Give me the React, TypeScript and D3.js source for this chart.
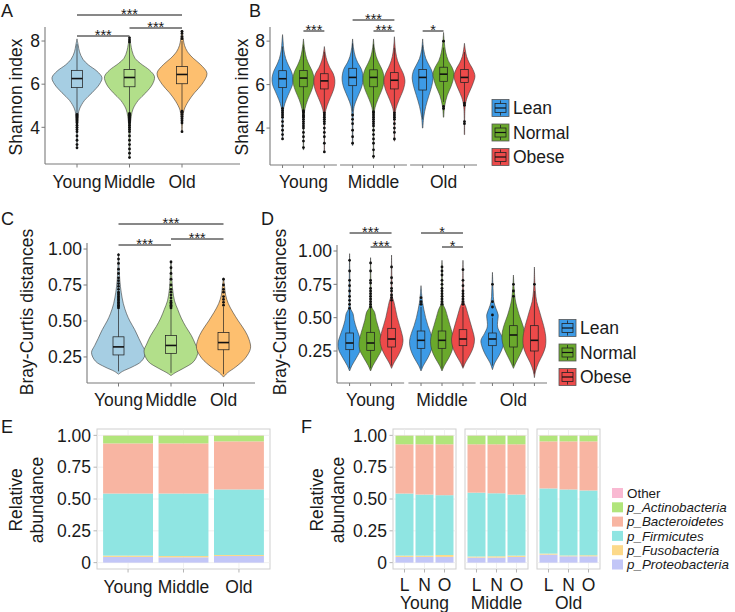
import React from 'react';
import * as d3 from 'd3';

const FONT = "'Liberation Sans', Arial, Helvetica, sans-serif";

// ---------- categories ----------
const ageGroups = ['Young', 'Middle', 'Old'];
const bmiGroups = ['Lean', 'Normal', 'Obese'];
const bmiShort = ['L', 'N', 'O'];
const ageColors = ['#a6cee3', '#b2df8a', '#fdbf6f'];
const bmiColors = ['#3d9be6', '#6aa92c', '#ec4a4a'];

// ---------- ticks ----------
const shannonTicks = [4, 6, 8];
const brayTicks = [0.25, 0.5, 0.75, 1.0];
const brayTickLabels = ['0.25', '0.50', '0.75', '1.00'];
const abundanceTicks = [0, 0.25, 0.5, 0.75, 1.0];
const abundanceTickLabels = ['0', '0.25', '0.50', '0.75', '1.00'];

// ---------- Panel A: Shannon by age (profile: [value, relative density]) ----------
const shannonAgeProfiles = [
  [[3.0, 0.01], [4.2, 0.02], [4.6, 0.05], [4.85, 0.1], [5.25, 0.3], [5.6, 0.6], [6.0, 0.9], [6.3, 1.0], [6.6, 0.8], [6.9, 0.45], [7.15, 0.24], [7.5, 0.1], [7.8, 0.05], [8.1, 0.0]],
  [[2.6, 0.01], [4.0, 0.03], [4.5, 0.07], [4.85, 0.14], [5.25, 0.35], [5.6, 0.65], [6.0, 0.92], [6.35, 1.0], [6.65, 0.8], [6.95, 0.45], [7.2, 0.22], [7.55, 0.1], [7.85, 0.05], [8.2, 0.0]],
  [[3.8, 0.01], [4.4, 0.03], [4.8, 0.08], [5.2, 0.25], [5.6, 0.5], [6.0, 0.8], [6.5, 1.0], [6.9, 0.75], [7.2, 0.45], [7.5, 0.22], [7.8, 0.1], [8.1, 0.05], [8.5, 0.0]],
];
const shannonAgeBoxes = [
  [4.65, 5.84, 6.26, 6.64, 7.85],
  [4.7, 5.88, 6.31, 6.68, 7.9],
  [4.8, 6.02, 6.45, 6.82, 8.0],
];
const shannonAgeOutliers = [
  [4.6, 4.55, 4.5, 4.45, 4.4, 4.35, 4.3, 4.25, 4.2, 4.1, 4.0, 3.9, 3.8, 3.6, 3.4, 3.2, 3.05],
  [4.65, 4.6, 4.55, 4.5, 4.45, 4.4, 4.35, 4.3, 4.25, 4.2, 4.1, 4.0, 3.9, 3.8, 3.6, 3.4, 3.2, 3.0, 2.8, 2.6, 7.95, 8.05, 8.15],
  [4.75, 4.7, 4.6, 4.5, 4.4, 4.3, 4.2, 3.8, 8.1, 8.2, 8.35, 8.45],
];

// ---------- Panel B: Shannon by age x BMI (Young L,N,O, Middle L,N,O, Old L,N,O) ----------
const shannonBmiProfiles = [
  [[3.5, 0.02], [4.5, 0.05], [4.95, 0.12], [5.3, 0.35], [5.7, 0.7], [6.0, 0.95], [6.3, 1.0], [6.6, 0.85], [6.9, 0.55], [7.2, 0.3], [7.6, 0.12], [8.0, 0.05], [8.3, 0]],
  [[3.0, 0.02], [4.5, 0.05], [4.9, 0.15], [5.3, 0.4], [5.7, 0.75], [6.0, 0.95], [6.3, 1.0], [6.6, 0.85], [6.9, 0.55], [7.2, 0.3], [7.6, 0.12], [7.9, 0.04], [8.1, 0]],
  [[2.9, 0.02], [4.5, 0.05], [4.85, 0.15], [5.2, 0.4], [5.6, 0.75], [5.9, 0.95], [6.2, 1.0], [6.5, 0.85], [6.8, 0.5], [7.1, 0.25], [7.4, 0.1], [7.75, 0]],
  [[3.2, 0.02], [4.5, 0.05], [5.0, 0.15], [5.4, 0.45], [5.8, 0.8], [6.1, 0.97], [6.35, 1.0], [6.7, 0.85], [7.0, 0.5], [7.3, 0.25], [7.7, 0.08], [8.1, 0]],
  [[2.6, 0.02], [4.6, 0.06], [4.95, 0.15], [5.3, 0.4], [5.7, 0.75], [6.0, 0.95], [6.35, 1.0], [6.65, 0.85], [7.0, 0.5], [7.3, 0.25], [7.7, 0.08], [8.1, 0]],
  [[3.4, 0.02], [4.6, 0.06], [4.9, 0.15], [5.3, 0.45], [5.7, 0.8], [6.0, 0.97], [6.2, 1.0], [6.5, 0.85], [6.8, 0.55], [7.1, 0.3], [7.5, 0.12], [7.9, 0.04], [8.2, 0]],
  [[4.0, 0.02], [4.5, 0.1], [5.0, 0.3], [5.5, 0.6], [5.9, 0.85], [6.3, 1.0], [6.6, 0.9], [6.9, 0.6], [7.2, 0.3], [7.6, 0.1], [8.1, 0]],
  [[4.5, 0.02], [5.0, 0.1], [5.5, 0.35], [5.9, 0.7], [6.2, 0.9], [6.5, 1.0], [6.8, 0.8], [7.1, 0.45], [7.5, 0.2], [8.0, 0.06], [8.4, 0]],
  [[3.7, 0.02], [5.0, 0.07], [5.4, 0.25], [5.8, 0.6], [6.1, 0.85], [6.4, 1.0], [6.7, 0.8], [7.0, 0.45], [7.3, 0.2], [7.6, 0.08], [7.9, 0]],
];
const shannonBmiBoxes = [
  [4.95, 5.86, 6.27, 6.64, 7.75],
  [4.85, 5.9, 6.3, 6.65, 7.8],
  [4.75, 5.8, 6.17, 6.5, 7.5],
  [4.75, 5.95, 6.33, 6.75, 7.9],
  [4.8, 5.9, 6.33, 6.68, 7.85],
  [4.75, 5.8, 6.2, 6.55, 7.7],
  [4.4, 5.75, 6.33, 6.7, 7.8],
  [5.2, 6.15, 6.48, 6.8, 7.7],
  [5.2, 6.1, 6.33, 6.7, 7.5],
];
const shannonBmiOutliers = [
  [4.9, 4.8, 4.7, 4.6, 4.5, 4.3, 4.1, 3.9, 3.7, 3.5],
  [4.8, 4.75, 4.7, 4.6, 4.55, 4.5, 4.4, 4.3, 4.2, 4.1, 4.0, 3.8, 3.6, 3.4, 3.1],
  [4.7, 4.6, 4.5, 4.4, 4.3, 4.2, 4.0, 3.8, 3.6, 3.3, 2.9],
  [4.6, 4.4, 4.2, 3.9, 3.6, 3.3],
  [4.75, 4.7, 4.6, 4.5, 4.4, 4.3, 4.2, 4.1, 3.9, 3.7, 3.5, 3.3, 3.0, 2.7],
  [4.7, 4.6, 4.5, 4.4, 4.2, 4.0, 3.8, 3.5],
  [],
  [8.0, 5.0, 4.9],
  [5.15, 5.05, 4.3, 4.2],
];

// ---------- Panel C: Bray-Curtis by age ----------
const brayAgeProfiles = [
  [[0.13, 0], [0.15, 0.15], [0.18, 0.5], [0.22, 0.85], [0.28, 1.0], [0.33, 0.88], [0.38, 0.75], [0.44, 0.6], [0.5, 0.42], [0.55, 0.3], [0.62, 0.18], [0.7, 0.1], [0.78, 0.05], [0.88, 0.02], [0.97, 0]],
  [[0.12, 0], [0.14, 0.15], [0.17, 0.45], [0.22, 0.85], [0.29, 1.0], [0.34, 0.9], [0.4, 0.75], [0.46, 0.55], [0.52, 0.38], [0.58, 0.25], [0.64, 0.13], [0.72, 0.06], [0.8, 0.03], [0.92, 0]],
  [[0.11, 0], [0.14, 0.15], [0.18, 0.45], [0.24, 0.8], [0.31, 1.0], [0.37, 0.95], [0.43, 0.8], [0.5, 0.55], [0.56, 0.35], [0.62, 0.18], [0.68, 0.08], [0.74, 0.04], [0.8, 0]],
];
const brayAgeBoxes = [
  [0.15, 0.264, 0.32, 0.39, 0.58],
  [0.14, 0.275, 0.33, 0.40, 0.58],
  [0.13, 0.30, 0.35, 0.42, 0.6],
];
const brayAgeOutliers = [
  [0.59, 0.6, 0.61, 0.62, 0.63, 0.64, 0.65, 0.66, 0.67, 0.68, 0.69, 0.7, 0.72, 0.74, 0.76, 0.78, 0.8, 0.83, 0.86, 0.9, 0.93, 0.96],
  [0.59, 0.6, 0.61, 0.62, 0.63, 0.64, 0.66, 0.68, 0.7, 0.72, 0.75, 0.79, 0.83, 0.87, 0.91],
  [0.61, 0.63, 0.65, 0.67, 0.7, 0.72, 0.75, 0.79],
];

// ---------- Panel D: Bray-Curtis by age x BMI ----------
const brayBmiProfiles = [
  [[0.1, 0], [0.14, 0.2], [0.2, 0.6], [0.26, 0.95], [0.31, 1.0], [0.36, 0.85], [0.42, 0.6], [0.48, 0.4], [0.53, 0.3], [0.57, 0.08], [0.7, 0.04], [0.85, 0.02], [0.98, 0]],
  [[0.1, 0], [0.14, 0.2], [0.2, 0.6], [0.26, 0.95], [0.31, 1.0], [0.36, 0.9], [0.42, 0.7], [0.48, 0.5], [0.54, 0.35], [0.58, 0.1], [0.7, 0.04], [0.85, 0.02], [0.95, 0]],
  [[0.12, 0], [0.16, 0.2], [0.22, 0.6], [0.28, 0.9], [0.33, 1.0], [0.38, 0.9], [0.44, 0.7], [0.5, 0.5], [0.56, 0.35], [0.62, 0.2], [0.66, 0.06], [0.8, 0.03], [0.97, 0]],
  [[0.1, 0], [0.14, 0.2], [0.2, 0.6], [0.26, 0.9], [0.32, 1.0], [0.38, 0.85], [0.44, 0.6], [0.5, 0.4], [0.56, 0.25], [0.62, 0.12], [0.68, 0.05], [0.74, 0]],
  [[0.1, 0], [0.14, 0.2], [0.2, 0.6], [0.26, 0.9], [0.32, 1.0], [0.38, 0.9], [0.44, 0.7], [0.5, 0.5], [0.56, 0.3], [0.6, 0.1], [0.72, 0.04], [0.85, 0.02], [0.93, 0]],
  [[0.12, 0], [0.16, 0.2], [0.22, 0.6], [0.28, 0.9], [0.34, 1.0], [0.4, 0.85], [0.46, 0.65], [0.52, 0.45], [0.58, 0.25], [0.62, 0.08], [0.75, 0.03], [0.93, 0]],
  [[0.11, 0], [0.16, 0.2], [0.22, 0.6], [0.28, 0.9], [0.33, 1.0], [0.38, 0.7], [0.43, 0.45], [0.47, 0.45], [0.52, 0.5], [0.57, 0.3], [0.62, 0.12], [0.7, 0.06], [0.84, 0]],
  [[0.12, 0], [0.16, 0.2], [0.22, 0.55], [0.28, 0.85], [0.34, 1.0], [0.4, 0.95], [0.46, 0.75], [0.52, 0.5], [0.58, 0.3], [0.64, 0.15], [0.72, 0.06], [0.82, 0]],
  [[0.05, 0], [0.1, 0.1], [0.16, 0.35], [0.22, 0.7], [0.28, 0.95], [0.33, 1.0], [0.38, 0.95], [0.44, 0.8], [0.5, 0.6], [0.56, 0.4], [0.62, 0.2], [0.7, 0.08], [0.78, 0.03], [0.88, 0]],
];
const brayBmiBoxes = [
  [0.12, 0.26, 0.31, 0.385, 0.56],
  [0.12, 0.255, 0.31, 0.39, 0.57],
  [0.14, 0.28, 0.34, 0.42, 0.62],
  [0.12, 0.27, 0.33, 0.40, 0.58],
  [0.12, 0.27, 0.33, 0.40, 0.59],
  [0.13, 0.29, 0.34, 0.41, 0.58],
  [0.14, 0.29, 0.34, 0.385, 0.5],
  [0.14, 0.28, 0.37, 0.44, 0.65],
  [0.08, 0.25, 0.33, 0.44, 0.7],
];
const brayBmiOutliers = [
  [0.57, 0.6, 0.63, 0.66, 0.7, 0.74, 0.78, 0.85, 0.93],
  [0.58, 0.6, 0.62, 0.64, 0.66, 0.68, 0.7, 0.72, 0.76, 0.78, 0.85, 0.91],
  [0.63, 0.65, 0.67, 0.7, 0.72, 0.76, 0.8, 0.88],
  [0.6, 0.62, 0.65],
  [0.6, 0.62, 0.64, 0.66, 0.68, 0.7, 0.72, 0.75, 0.78, 0.82, 0.85, 0.88],
  [0.6, 0.62, 0.64, 0.66, 0.68, 0.7, 0.74, 0.78, 0.86],
  [0.52, 0.58, 0.62, 0.75],
  [0.66, 0.7, 0.75],
  [0.75],
];

// ---------- significance: [fromIndex, toIndex, label, (facet), tier] ----------
const sigA = [[0, 1, '***', 0], [1, 2, '***', 1], [0, 2, '***', 2]];
const sigB = [[1, 2, '***', 'Young', 0], [1, 2, '***', 'Middle', 0], [0, 2, '***', 'Middle', 1], [0, 1, '*', 'Old', 0]];
const sigC = [[0, 1, '***', 0], [1, 2, '***', 1], [0, 2, '***', 2]];
const sigD = [[1, 2, '***', 'Young', 0], [0, 2, '***', 'Young', 1], [1, 2, '*', 'Middle', 0], [0, 2, '*', 'Middle', 1]];

// ---------- Panels E/F: relative abundance ----------
const taxa = ['p_Proteobacteria', 'p_Fusobacteria', 'p_Firmicutes', 'p_Bacteroidetes', 'p_Actinobacteria', 'Other'];
const taxaColors = ['#c2c6f7', '#fcd98a', '#8fe5e2', '#f8b5a2', '#b1e57b', '#f9b9d2'];
const legendOrder = ['Other', 'p_Actinobacteria', 'p_Bacteroidetes', 'p_Firmicutes', 'p_Fusobacteria', 'p_Proteobacteria'];

// E: Young, Middle, Old
const proteobacteriaAge = [0.045, 0.042, 0.052];
const fusobacteriaAge = [0.01, 0.01, 0.008];
const firmicutesAge = [0.488, 0.491, 0.515];
const bacteroidetesAge = [0.394, 0.394, 0.378];
const actinobacteriaAge = [0.061, 0.061, 0.045];
const otherAge = [0.002, 0.002, 0.002];

// F: Young L,N,O / Middle L,N,O / Old L,N,O
const proteobacteriaBmi = [0.045, 0.045, 0.045, 0.04, 0.04, 0.045, 0.063, 0.05, 0.05];
const fusobacteriaBmi = [0.01, 0.01, 0.015, 0.008, 0.01, 0.01, 0.008, 0.006, 0.008];
const firmicutesBmi = [0.488, 0.48, 0.47, 0.502, 0.495, 0.48, 0.512, 0.519, 0.509];
const bacteroidetesBmi = [0.387, 0.395, 0.40, 0.38, 0.385, 0.395, 0.37, 0.378, 0.386];
const actinobacteriaBmi = [0.068, 0.068, 0.068, 0.068, 0.068, 0.068, 0.045, 0.045, 0.045];
const otherBmi = [0.002, 0.002, 0.002, 0.002, 0.002, 0.002, 0.002, 0.002, 0.002];

// ---------- helpers ----------
const AXIS = '#7a7a7a';
const TXT = '#1a1a1a';
const FS = 17.5;

function Violin({ cx, y, profile, box, outliers, fill, maxHalf, boxHalf }) {
  const area = d3
    .area()
    .y((d) => y(d[0]))
    .x0((d) => cx - d[1] * maxHalf)
    .x1((d) => cx + d[1] * maxHalf)
    .curve(d3.curveCatmullRom.alpha(0.5));
  const [lo, q1, med, q3, hi] = box;
  return (
    <g>
      <path d={area(profile)} fill={fill} stroke="#3c3c3c" strokeWidth={0.6} />
      <line x1={cx} x2={cx} y1={y(hi)} y2={y(q3)} stroke="#222" strokeWidth={0.7} />
      <line x1={cx} x2={cx} y1={y(q1)} y2={y(lo)} stroke="#222" strokeWidth={0.7} />
      <rect x={cx - boxHalf} y={y(q3)} width={boxHalf * 2} height={y(q1) - y(q3)} fill="none" stroke="#222" strokeWidth={0.75} />
      <line x1={cx - boxHalf} x2={cx + boxHalf} y1={y(med)} y2={y(med)} stroke="#111" strokeWidth={1.6} />
      {outliers.map((v, i) => (
        <circle key={i} cx={cx} cy={y(v)} r={1.4} fill="#111" />
      ))}
    </g>
  );
}

function YAxis({ x, y, ticks, labels, top, bottom }) {
  return (
    <g>
      <line x1={x} x2={x} y1={top} y2={bottom} stroke={AXIS} strokeWidth={1.1} />
      {ticks.map((t, i) => (
        <g key={i}>
          <line x1={x - 3.5} x2={x} y1={y(t)} y2={y(t)} stroke={AXIS} strokeWidth={1} />
          <text x={x - 5} y={y(t)} dy="0.36em" textAnchor="end" fontSize={FS} fill={TXT}>
            {labels ? labels[i] : String(t)}
          </text>
        </g>
      ))}
    </g>
  );
}

function Sig({ x1, x2, y, label }) {
  return (
    <g>
      <line x1={x1} x2={x2} y1={y} y2={y} stroke="#111" strokeWidth={1} />
      <text x={(x1 + x2) / 2} y={y + 4} textAnchor="middle" fontSize={14.5} fill={TXT}>
        {label}
      </text>
    </g>
  );
}

function RotLabel({ x, y, text, fs = FS }) {
  return (
    <text transform={`translate(${x},${y}) rotate(-90)`} textAnchor="middle" fontSize={fs} fill={TXT}>
      {text}
    </text>
  );
}

function BmiLegend({ x, y0, step }) {
  return (
    <g>
      {bmiGroups.map((g, i) => {
        const cy = y0 + i * step;
        const s = 17;
        const kx = x;
        const ky = cy - s / 2;
        return (
          <g key={g}>
            <rect x={kx} y={ky} width={s} height={s} fill={bmiColors[i]} stroke="#555" strokeWidth={0.8} />
            <line x1={kx + s / 2} x2={kx + s / 2} y1={ky + 1} y2={ky + 4} stroke="#222" strokeWidth={0.8} />
            <line x1={kx + s / 2} x2={kx + s / 2} y1={ky + s - 4} y2={ky + s - 1} stroke="#222" strokeWidth={0.8} />
            <rect x={kx + 3} y={ky + 4} width={s - 6} height={s - 8} fill="none" stroke="#222" strokeWidth={0.8} />
            <line x1={kx + 3} x2={kx + s - 3} y1={cy} y2={cy} stroke="#111" strokeWidth={1.2} />
            <text x={kx + 21} y={cy} dy="0.36em" fontSize={FS} fill={TXT}>
              {g}
            </text>
          </g>
        );
      })}
    </g>
  );
}

export default function App() {
  // ---------- Panel A ----------
  const yA = d3.scaleLinear().domain([2.3, 8.65]).range([164, 27]);
  const xA = d3.scalePoint().domain(ageGroups).range([45.5, 213.5]).padding(0.6);
  const sigTierA = [36, 28, 15];

  // ---------- Panel B ----------
  const yB = d3.scaleLinear().domain([2.3, 8.65]).range([165, 27]);
  const facetB = d3.scaleBand().domain(ageGroups).range([270, 477]).paddingInner(0.045);
  const innerB = d3.scalePoint().domain(bmiGroups).range([0, facetB.bandwidth()]).padding(0.6);
  const xB = (a, b) => facetB(a) + innerB(b);
  const sigTierB = [31, 20];

  // ---------- Panel C ----------
  const yC = d3.scaleLinear().domain([0.069, 1.042]).range([383, 243]);
  const xC = d3.scalePoint().domain(ageGroups).range([87, 255]).padding(0.6);
  const sigTierC = [245, 239, 224];

  // ---------- Panel D ----------
  const yD = d3.scaleLinear().domain([0.01, 1.045]).range([383, 245]);
  const facetD = d3.scaleBand().domain(ageGroups).range([337, 547]).paddingInner(0.06);
  const innerD = d3.scalePoint().domain(bmiGroups).range([0, facetD.bandwidth()]).padding(0.6);
  const xD = (a, b) => facetD(a) + innerD(b);
  const sigTierD = [247, 233];

  // ---------- Panel E ----------
  const yE = d3.scaleLinear().domain([-0.05, 1.05]).range([569, 429]);
  const xE = d3.scaleBand().domain(ageGroups).range([97, 270]).paddingInner(0.1).paddingOuter(0.11);
  const ageRows = ageGroups.map((g, i) => ({
    group: g,
    p_Proteobacteria: proteobacteriaAge[i],
    p_Fusobacteria: fusobacteriaAge[i],
    p_Firmicutes: firmicutesAge[i],
    p_Bacteroidetes: bacteroidetesAge[i],
    p_Actinobacteria: actinobacteriaAge[i],
    Other: otherAge[i],
  }));
  const stackE = d3.stack().keys(taxa)(ageRows);

  // ---------- Panel F ----------
  const facetF = d3.scaleBand().domain(ageGroups).range([393, 600]).paddingInner(0.125);
  const innerF = d3.scaleBand().domain(bmiShort).range([0, facetF.bandwidth()]).paddingInner(0.1).paddingOuter(0.125);
  const bmiRows = [];
  ageGroups.forEach((a, ai) =>
    bmiShort.forEach((b, bi) => {
      const k = ai * 3 + bi;
      bmiRows.push({
        age: a,
        bmi: b,
        p_Proteobacteria: proteobacteriaBmi[k],
        p_Fusobacteria: fusobacteriaBmi[k],
        p_Firmicutes: firmicutesBmi[k],
        p_Bacteroidetes: bacteroidetesBmi[k],
        p_Actinobacteria: actinobacteriaBmi[k],
        Other: otherBmi[k],
      });
    })
  );
  const stackF = d3.stack().keys(taxa)(bmiRows);

  const panelLetter = (x, y, t) => (
    <text x={x} y={y} fontSize={18} fill={TXT}>
      {t}
    </text>
  );

  return (
    <svg
      width={735}
      height={612}
      style={{ position: 'absolute', left: 0, top: 0, background: '#fff' }}
      fontFamily={FONT}
    >
      <rect x={0} y={0} width={735} height={612} fill="#fff" />

      {/* ================= A ================= */}
      {panelLetter(1, 16.5, 'A')}
      <RotLabel x={22} y={97} text="Shannon index" />
      {ageGroups.map((g, i) => (
        <Violin
          key={g}
          cx={xA(g)}
          y={yA}
          profile={shannonAgeProfiles[i]}
          box={shannonAgeBoxes[i]}
          outliers={shannonAgeOutliers[i]}
          fill={ageColors[i]}
          maxHalf={25}
          boxHalf={5.5}
        />
      ))}
      <YAxis x={45} y={yA} ticks={shannonTicks} top={27} bottom={164} />
      <line x1={45} x2={240} y1={164} y2={164} stroke={AXIS} strokeWidth={1.1} />
      {ageGroups.map((g) => (
        <g key={g}>
          <line x1={xA(g)} x2={xA(g)} y1={164} y2={167.5} stroke={AXIS} />
          <text x={xA(g)} y={188} textAnchor="middle" fontSize={FS} fill={TXT}>
            {g}
          </text>
        </g>
      ))}
      {sigA.map((s, i) => (
        <Sig key={i} x1={xA(ageGroups[s[0]])} x2={xA(ageGroups[s[1]])} y={sigTierA[s[3]]} label={s[2]} />
      ))}

      {/* ================= B ================= */}
      {panelLetter(249, 16.5, 'B')}
      <RotLabel x={248} y={97} text="Shannon index" />
      {ageGroups.map((a, ai) =>
        bmiGroups.map((b, bi) => {
          const k = ai * 3 + bi;
          return (
            <Violin
              key={a + b}
              cx={xB(a, b)}
              y={yB}
              profile={shannonBmiProfiles[k]}
              box={shannonBmiBoxes[k]}
              outliers={shannonBmiOutliers[k]}
              fill={bmiColors[bi]}
              maxHalf={10.5}
              boxHalf={3.8}
            />
          );
        })
      )}
      <YAxis x={270} y={yB} ticks={shannonTicks} top={27} bottom={165} />
      {ageGroups.map((a) => (
        <g key={a}>
          <line x1={facetB(a)} x2={facetB(a) + facetB.bandwidth()} y1={165} y2={165} stroke={AXIS} strokeWidth={1.1} />
          {bmiGroups.map((b) => (
            <line key={b} x1={xB(a, b)} x2={xB(a, b)} y1={165} y2={168} stroke={AXIS} />
          ))}
          <text x={facetB(a) + facetB.bandwidth() / 2} y={188} textAnchor="middle" fontSize={FS} fill={TXT}>
            {a}
          </text>
        </g>
      ))}
      {sigB.map((s, i) => (
        <Sig key={i} x1={xB(s[3], bmiGroups[s[0]])} x2={xB(s[3], bmiGroups[s[1]])} y={sigTierB[s[4]]} label={s[2]} />
      ))}
      <BmiLegend x={492} y0={108} step={24.5} />

      {/* ================= C ================= */}
      {panelLetter(1, 225, 'C')}
      <RotLabel x={33} y={312} text="Bray-Curtis distances" />
      {ageGroups.map((g, i) => (
        <Violin
          key={g}
          cx={xC(g)}
          y={yC}
          profile={brayAgeProfiles[i]}
          box={brayAgeBoxes[i]}
          outliers={brayAgeOutliers[i]}
          fill={ageColors[i]}
          maxHalf={27}
          boxHalf={5.5}
        />
      ))}
      <YAxis x={87} y={yC} ticks={brayTicks} labels={brayTickLabels} top={243} bottom={383} />
      <line x1={87} x2={255} y1={383} y2={383} stroke={AXIS} strokeWidth={1.1} />
      {ageGroups.map((g) => (
        <g key={g}>
          <line x1={xC(g)} x2={xC(g)} y1={383} y2={386.5} stroke={AXIS} />
          <text x={xC(g)} y={406} textAnchor="middle" fontSize={FS} fill={TXT}>
            {g}
          </text>
        </g>
      ))}
      {sigC.map((s, i) => (
        <Sig key={i} x1={xC(ageGroups[s[0]])} x2={xC(ageGroups[s[1]])} y={sigTierC[s[3]]} label={s[2]} />
      ))}

      {/* ================= D ================= */}
      {panelLetter(261, 225, 'D')}
      <RotLabel x={286} y={312} text="Bray-Curtis distances" />
      {ageGroups.map((a, ai) =>
        bmiGroups.map((b, bi) => {
          const k = ai * 3 + bi;
          return (
            <Violin
              key={a + b}
              cx={xD(a, b)}
              y={yD}
              profile={brayBmiProfiles[k]}
              box={brayBmiBoxes[k]}
              outliers={brayBmiOutliers[k]}
              fill={bmiColors[bi]}
              maxHalf={11.5}
              boxHalf={3.8}
            />
          );
        })
      )}
      <YAxis x={337} y={yD} ticks={brayTicks} labels={brayTickLabels} top={245} bottom={383} />
      {ageGroups.map((a) => (
        <g key={a}>
          <line x1={facetD(a)} x2={facetD(a) + facetD.bandwidth()} y1={383} y2={383} stroke={AXIS} strokeWidth={1.1} />
          {bmiGroups.map((b) => (
            <line key={b} x1={xD(a, b)} x2={xD(a, b)} y1={383} y2={386} stroke={AXIS} />
          ))}
          <text x={facetD(a) + facetD.bandwidth() / 2} y={406} textAnchor="middle" fontSize={FS} fill={TXT}>
            {a}
          </text>
        </g>
      ))}
      {sigD.map((s, i) => (
        <Sig key={i} x1={xD(s[3], bmiGroups[s[0]])} x2={xD(s[3], bmiGroups[s[1]])} y={sigTierD[s[4]]} label={s[2]} />
      ))}
      <BmiLegend x={559} y0={328} step={24.5} />

      {/* ================= E ================= */}
      {panelLetter(1, 433, 'E')}
      <RotLabel x={22} y={500} text="Relative" />
      <RotLabel x={43} y={500} text="abundance" />
      <rect x={97} y={429} width={173} height={140} fill="#fff" stroke="#cfcfcf" strokeWidth={1} />
      {abundanceTicks.map((t, i) => (
        <g key={t}>
          <line x1={97} x2={270} y1={yE(t)} y2={yE(t)} stroke="#ececec" strokeWidth={0.8} />
          <line x1={93.5} x2={97} y1={yE(t)} y2={yE(t)} stroke="#b5b5b5" />
          <text x={91} y={yE(t)} dy="0.36em" textAnchor="end" fontSize={FS} fill={TXT}>
            {abundanceTickLabels[i]}
          </text>
        </g>
      ))}
      {ageGroups.map((g) => (
        <g key={g}>
          <line x1={xE(g) + xE.bandwidth() / 2} x2={xE(g) + xE.bandwidth() / 2} y1={429} y2={569} stroke="#ececec" strokeWidth={0.8} />
          <line x1={xE(g) + xE.bandwidth() / 2} x2={xE(g) + xE.bandwidth() / 2} y1={569} y2={572.5} stroke="#b5b5b5" />
          <text x={xE(g) + xE.bandwidth() / 2} y={592.5} textAnchor="middle" fontSize={FS} fill={TXT}>
            {g}
          </text>
        </g>
      ))}
      {stackE.map((layer, li) =>
        layer.map((d, j) => (
          <rect
            key={li + '-' + j}
            x={xE(ageGroups[j])}
            y={yE(d[1])}
            width={xE.bandwidth()}
            height={Math.max(0, yE(d[0]) - yE(d[1]))}
            fill={taxaColors[li]}
          />
        ))
      )}

      {/* ================= F ================= */}
      {panelLetter(301, 433, 'F')}
      <RotLabel x={323} y={500} text="Relative" />
      <RotLabel x={344} y={500} text="abundance" />
      {abundanceTicks.map((t, i) => (
        <g key={t}>
          <line x1={389.5} x2={393} y1={yE(t)} y2={yE(t)} stroke="#b5b5b5" />
          <text x={387} y={yE(t)} dy="0.36em" textAnchor="end" fontSize={FS} fill={TXT}>
            {abundanceTickLabels[i]}
          </text>
        </g>
      ))}
      {ageGroups.map((a) => (
        <g key={a}>
          <rect x={facetF(a)} y={429} width={facetF.bandwidth()} height={140} fill="#fff" stroke="#cfcfcf" strokeWidth={1} />
          {abundanceTicks.map((t) => (
            <line key={t} x1={facetF(a)} x2={facetF(a) + facetF.bandwidth()} y1={yE(t)} y2={yE(t)} stroke="#ececec" strokeWidth={0.8} />
          ))}
          {bmiShort.map((b) => {
            const cx = facetF(a) + innerF(b) + innerF.bandwidth() / 2;
            return (
              <g key={b}>
                <line x1={cx} x2={cx} y1={429} y2={569} stroke="#ececec" strokeWidth={0.8} />
                <line x1={cx} x2={cx} y1={569} y2={572.5} stroke="#b5b5b5" />
                <text x={cx} y={591} textAnchor="middle" fontSize={FS} fill={TXT}>
                  {b}
                </text>
              </g>
            );
          })}
          <text x={facetF(a) + facetF.bandwidth() / 2} y={609} textAnchor="middle" fontSize={FS} fill={TXT}>
            {a}
          </text>
        </g>
      ))}
      {stackF.map((layer, li) =>
        layer.map((d, j) => {
          const row = bmiRows[j];
          return (
            <rect
              key={li + '-' + j}
              x={facetF(row.age) + innerF(row.bmi)}
              y={yE(d[1])}
              width={innerF.bandwidth()}
              height={Math.max(0, yE(d[0]) - yE(d[1]))}
              fill={taxaColors[li]}
            />
          );
        })
      )}

      {/* F legend */}
      {legendOrder.map((name, i) => {
        const cy = 493 + i * 14.3;
        const ci = taxa.indexOf(name);
        return (
          <g key={name}>
            <rect x={612} y={cy - 5} width={11} height={10} fill={taxaColors[ci]} />
            <text x={627} y={cy} dy="0.36em" fontSize={13.4} fill={TXT} fontStyle={name === 'Other' ? 'normal' : 'italic'}>
              {name}
            </text>
          </g>
        );
      })}
    </svg>
  );
}
